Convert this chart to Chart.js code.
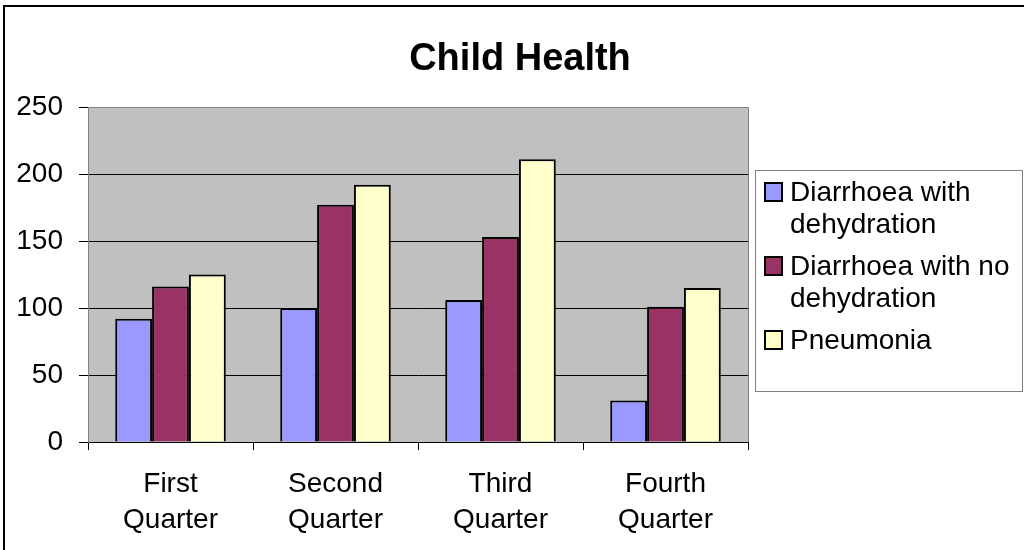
<!DOCTYPE html>
<html>
<head>
<meta charset="utf-8">
<script src="https://cdn.jsdelivr.net/npm/chart.js@4/dist/chart.umd.min.js"></script>
<style>
  html, body { margin: 0; padding: 0; background: #fff; }
  #wrap { position: relative; width: 1024px; height: 550px; }
</style>
</head>
<body>
<div id="wrap"><canvas id="c" width="1024" height="550"></canvas></div>
<script>
const titleText = 'Child Health';
const categories = [['First', 'Quarter'], ['Second', 'Quarter'], ['Third', 'Quarter'], ['Fourth', 'Quarter']];
const seriesNames = ['Diarrhoea with dehydration', 'Diarrhoea with no dehydration', 'Pneumonia'];
const legendLines = [['Diarrhoea with', 'dehydration'], ['Diarrhoea with no', 'dehydration'], ['Pneumonia']];
const withDehydration = [92, 100, 106, 31];
const noDehydration = [116, 177, 153, 101];
const pneumonia = [125, 192, 211, 115];
const yTicks = [0, 50, 100, 150, 200, 250];
const seriesColors = ['#9999FF', '#993366', '#FFFFCC'];

const FONT = '"Liberation Sans", Arial, sans-serif';

const chromePlugin = {
  id: 'chrome',
  beforeDraw(chart) {
    const { ctx, chartArea: a } = chart;
    ctx.save();
    ctx.fillStyle = '#C0C0C0';
    ctx.fillRect(a.left, a.top, a.right - a.left, a.bottom - a.top);
    ctx.restore();
  },
  afterDraw(chart) {
    const { ctx, chartArea: a } = chart;
    ctx.save();
    ctx.strokeStyle = '#808080';
    ctx.lineWidth = 1;
    ctx.beginPath();
    ctx.moveTo(a.left, a.top + 0.5);
    ctx.lineTo(a.right + 0.5, a.top + 0.5);
    ctx.lineTo(a.right + 0.5, a.bottom);
    ctx.stroke();
    ctx.strokeStyle = '#000';
    ctx.lineWidth = 2;
    ctx.strokeRect(4, 6, 1100, 600);
    const lx = 755, ly = 170, lw = 268, lh = 222;
    ctx.fillStyle = '#fff';
    ctx.fillRect(lx, ly, lw, lh);
    ctx.strokeStyle = '#808080';
    ctx.lineWidth = 1;
    ctx.strokeRect(lx + 0.5, ly + 0.5, lw - 1, lh - 1);
    ctx.font = '28px ' + FONT;
    ctx.textBaseline = 'middle';
    ctx.textAlign = 'left';
    let y = 192;
    chart.data.datasets.forEach((ds, i) => {
      ctx.fillStyle = ds.backgroundColor;
      ctx.fillRect(765, y - 9, 17, 18);
      ctx.strokeStyle = '#000';
      ctx.lineWidth = 2;
      ctx.strokeRect(765, y - 9, 17, 18);
      ctx.fillStyle = '#000';
      const lines = legendLines[i];
      lines.forEach((t, k) => ctx.fillText(t, 790, y + 1 + k * 32));
      y += lines.length * 32 + 10;
    });
    ctx.restore();
  }
};

new Chart(document.getElementById('c'), {
  type: 'bar',
  data: {
    labels: categories,
    datasets: [
      { label: seriesNames[0], data: withDehydration, backgroundColor: seriesColors[0] },
      { label: seriesNames[1], data: noDehydration, backgroundColor: seriesColors[1] },
      { label: seriesNames[2], data: pneumonia, backgroundColor: seriesColors[2] }
    ].map(d => Object.assign(d, { borderColor: '#000', borderWidth: 2, categoryPercentage: 0.67, barPercentage: 1.0 }))
  },
  options: {
    responsive: false,
    animation: false,
    layout: { padding: { left: 16, right: 0, top: 0, bottom: 0 } },
    plugins: {
      legend: { display: false },
      tooltip: { enabled: false },
      title: {
        display: true,
        text: titleText,
        color: '#000',
        font: { family: FONT, size: 38, weight: 'bold', lineHeight: 1.2 },
        padding: { top: 37, bottom: 24.4 }
      }
    },
    scales: {
      x: {
        offset: true,
        grid: { display: true, drawOnChartArea: false, offset: true, color: '#000', tickColor: '#000', tickLength: 8 },
        border: { display: true, color: '#000', width: 1 },
        ticks: {
          color: '#000',
          font: { family: FONT, size: 28, lineHeight: 1.2857 },
          padding: 16,
          maxRotation: 0,
          autoSkip: false
        },
        afterFit(s) { s.height = 108; }
      },
      y: {
        min: 0,
        max: 250,
        afterBuildTicks(s) { s.ticks = yTicks.map(v => ({ value: v })); },
        grid: {
          color: (c) => (c.tick && c.tick.value === 250 ? '#808080' : '#000'),
          tickColor: '#000',
          tickLength: 9,
          lineWidth: 1
        },
        border: { display: true, color: '#808080', width: 1 },
        ticks: {
          color: '#000',
          font: { family: FONT, size: 28 },
          padding: 16
        },
        afterFit(s) { s.width = 72; }
      },
      yR: {
        position: 'right',
        display: true,
        grid: { display: false, drawTicks: false },
        border: { display: false },
        ticks: { display: false },
        afterFit(s) { s.width = 276; }
      }
    }
  },
  plugins: [chromePlugin]
});
</script>
</body>
</html>
